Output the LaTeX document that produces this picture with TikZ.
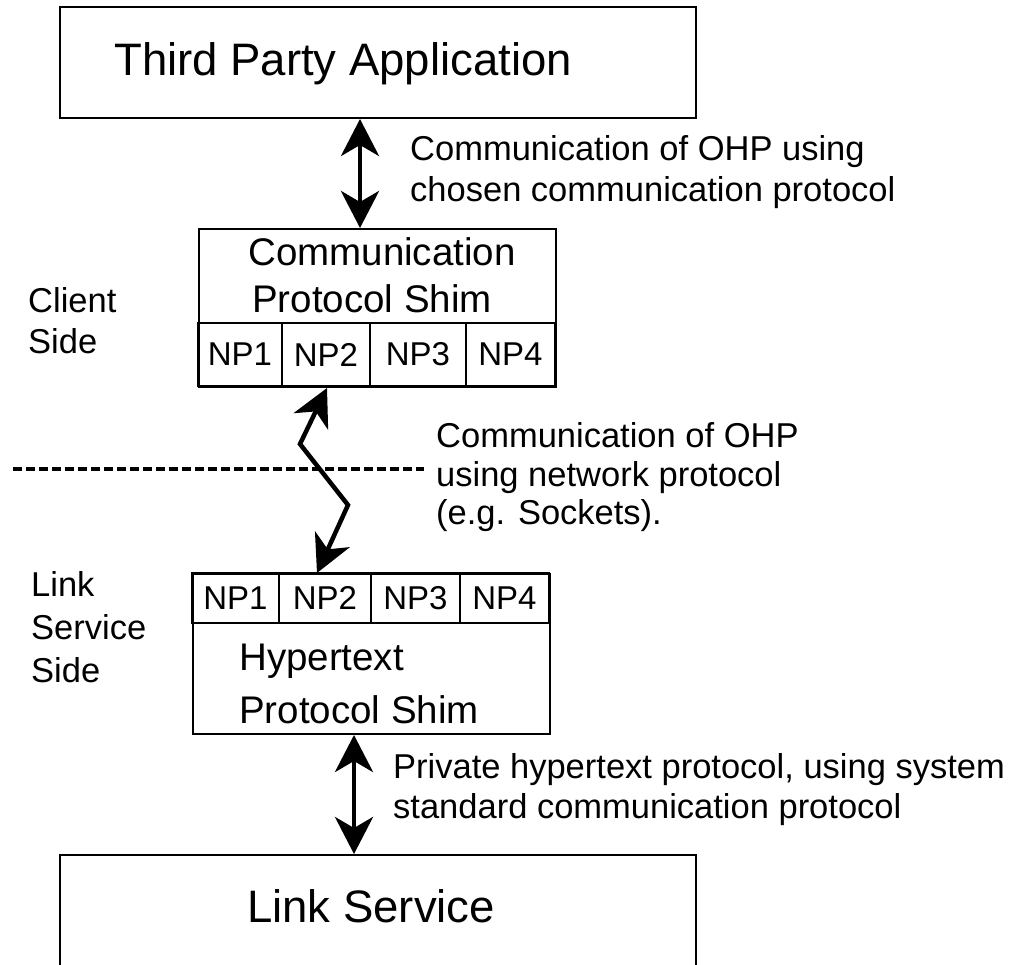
\documentclass[tikz,border=0pt]{standalone}
\usepackage{fontspec}
\setmainfont{Liberation Sans}
\usepackage{tikz}
\usetikzlibrary{arrows.meta}

\newcommand{\boxfont}{\fontsize{45.5}{50}\selectfont}
\newcommand{\shimfont}{\fontsize{38.5}{46}\selectfont}
\newcommand{\cellfont}{\fontsize{33}{40}\selectfont}
\newcommand{\notefont}{\fontsize{34.5}{41}\selectfont}

\tikzset{
  shimbox/.style={draw, line width=2pt, inner sep=0pt, anchor=north west},
  npcell/.style={draw, line width=2pt, inner sep=0pt, font=\cellfont},
  lbl/.style={anchor=base west, inner sep=0pt, font=\notefont},
  biarrow/.style={line width=4.5pt,
    {Stealth[length=37pt,width=38pt,inset=11pt]}-{Stealth[length=37pt,width=38pt,inset=11pt]}},
  sideline/.style={line width=4pt, dash pattern=on 9pt off 4pt},
}

\begin{document}
\begin{tikzpicture}[x=1pt,y=-1pt]

\useasboundingbox (0,0) rectangle (1016,964);
\clip (0,0) rectangle (1016,964);

% boxes
\node[shimbox, minimum width=636, minimum height=111] (tpa) at (59,6) {};
\node[shimbox, minimum width=357, minimum height=158] (cps) at (198,228) {};
\node[shimbox, minimum width=357, minimum height=160] (hps) at (192,573) {};
\node[shimbox, minimum width=636, minimum height=170] (lsv) at (59,854) {};

% network protocol cells
\foreach \a/\b [count=\i] in {198/282, 282/370, 370/466, 466/555}{
    \node[npcell, minimum width={\b-\a}, minimum height=63] (cnp\i) at ({(\a+\b)/2},354.5) {NP\i};
}
\foreach \a/\b [count=\i] in {192/279, 279/371, 371/460, 460/549}{
    \node[npcell, minimum width={\b-\a}, minimum height=50] (hnp\i) at ({(\a+\b)/2},598) {NP\i};
}

% box texts
\node[lbl, font=\boxfont] (tpaText) at (114,75) {Third Party Application};
\node[lbl, font=\boxfont] (lsvText) at (247,922) {Link Service};
\node[lbl, anchor=base, font=\shimfont] (cpsTextA) at (382,265) {Communication};
\node[lbl, anchor=base, font=\shimfont] (cpsTextB) at (372,312) {Protocol Shim};
\node[lbl, font=\shimfont] (hpsTextA) at (239,670) {Hypertext};
\node[lbl, font=\shimfont] (hpsTextB) at (239,723) {Protocol Shim};

% side labels
\foreach \txt/\y [count=\i] in {Client/312, Side/353}{
    \node[lbl] (client\i) at (28,\y) {\txt};
}
\foreach \txt/\y [count=\i] in {Link/596, Service/639, Side/682}{
    \node[lbl] (server\i) at (31,\y) {\txt};
}

% notes
\foreach \txt/\y [count=\i] in {Communication of OHP using/160, chosen communication protocol/201}{
    \node[lbl] (chosen\i) at (410,\y) {\txt};
}
\foreach \txt/\y [count=\i] in {Communication of OHP/447, using network protocol/486, (e.g. Sockets)./524}{
    \node[lbl] (network\i) at (436,\y) {\txt};
}
\foreach \txt/\y [count=\i] in {{Private hypertext protocol, using system}/778, standard communication protocol/818}{
    \node[lbl] (private\i) at (393,\y) {\txt};
}

% client / server boundary
\coordinate (dashL) at (13,469);
\coordinate (dashR) at (424,469);
\draw[sideline] (dashL) -- (dashR);

% connectors
\coordinate (tipA) at (360,0);
\coordinate (zzA) at (327,0);
\coordinate (zzB) at (300,444);
\coordinate (zzC) at (348,505);
\coordinate (zzD) at (317,0);
\coordinate (tipC) at (354,0);

\draw[biarrow] (tpa.south -| tipA) -- (cps.north -| tipA);
\draw[biarrow] (cps.south -| zzA) -- (zzB) -- (zzC) -- (hps.north -| zzD);
\draw[biarrow] (hps.south -| tipC) -- (lsv.north -| tipC);

\end{tikzpicture}
\end{document}
